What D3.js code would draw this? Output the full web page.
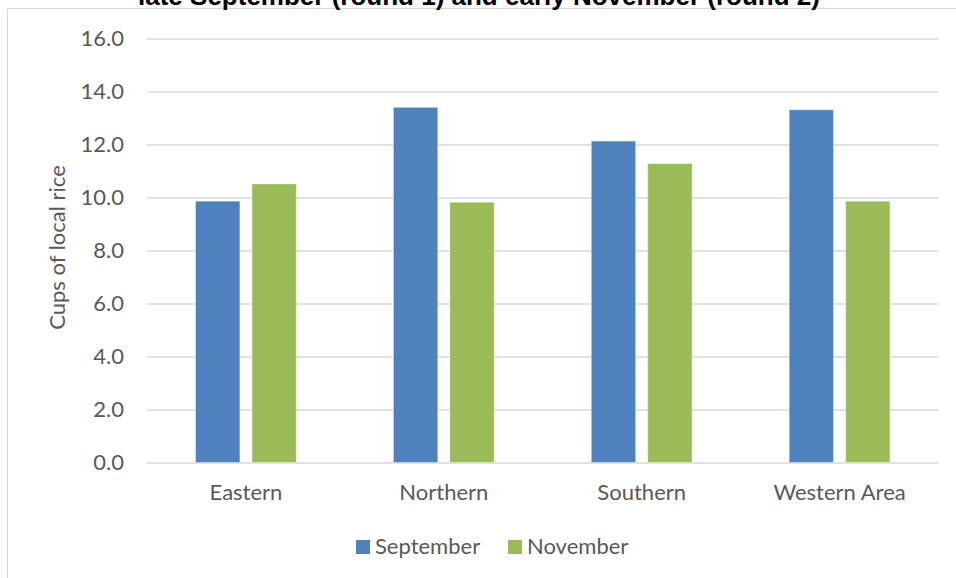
<!DOCTYPE html>
<html>
<head>
<meta charset="utf-8">
<script src="https://cdn.jsdelivr.net/npm/d3@7"></script>
<style>
  html, body { margin: 0; padding: 0; background: #fff; }
  svg { display: block; }
</style>
</head>
<body>
<svg id="chart" width="956" height="578"></svg>
<script>
const categories = ["Eastern", "Northern", "Southern", "Western Area"];
const seriesNames = ["September", "November"];
const september = [9.86, 13.40, 12.13, 13.31];
const november = [10.51, 9.82, 11.28, 9.86];
const yTicks = [0, 2, 4, 6, 8, 10, 12, 14, 16];
const colors = ["#4F81BD", "#9BBB59"];
const titleText = "late September (round 1) and early November (round 2)";
const yTitle = "Cups of local rice";

const seriesValues = [september, november];
const W = 956, H = 578;
const plot = { left: 147, right: 938.5, top: 38.5, bottom: 462.5 };
const font = "Lato, 'Open Sans', sans-serif";
const textColor = "#595959";

const svg = d3.select("#chart");
svg.append("rect").attr("width", W).attr("height", H).attr("fill", "#fff");

// chart border (top and left visible)
svg.append("line").attr("x1", 7.5).attr("x2", W).attr("y1", 8.5).attr("y2", 8.5)
  .attr("stroke", "#d9d9d9").attr("stroke-width", 1);
svg.append("line").attr("x1", 7.5).attr("x2", 7.5).attr("y1", 8.5).attr("y2", H)
  .attr("stroke", "#d9d9d9").attr("stroke-width", 1);

// title (cropped at top, as in the reference)
svg.append("text").attr("x", 479).attr("y", 5)
  .attr("text-anchor", "middle")
  .attr("font-family", "'Liberation Sans', Arial, sans-serif")
  .attr("font-weight", "bold").attr("font-size", 26)
  .attr("fill", "#000").text(titleText);

const x0 = d3.scaleBand().domain(categories).range([plot.left, plot.right]).padding(0);
const pairW = 100.7;
const x1 = d3.scaleBand().domain(seriesNames)
  .range([(x0.bandwidth() - pairW) / 2, (x0.bandwidth() + pairW) / 2])
  .paddingInner(0.215).paddingOuter(0);
const y = d3.scaleLinear().domain([0, 16]).range([plot.bottom, plot.top]);

// y axis with gridlines
const yAxis = svg.append("g").attr("transform", `translate(${plot.left},0)`)
  .call(d3.axisLeft(y).tickValues(yTicks).tickFormat(d3.format(".1f"))
    .tickSize(-(plot.right - plot.left)).tickPadding(23));
yAxis.select(".domain").remove();
yAxis.selectAll(".tick line").attr("stroke", "#d9d9d9").attr("stroke-width", 1.3);
yAxis.selectAll(".tick text").attr("fill", textColor)
  .attr("font-family", font).attr("font-size", 22);

// bars
const groups = svg.append("g").selectAll("g").data(categories).join("g")
  .attr("transform", d => `translate(${x0(d)},0)`);
groups.selectAll("rect")
  .data((d, i) => seriesNames.map((s, j) => ({ s, j, v: seriesValues[j][i] })))
  .join("rect")
  .attr("x", d => x1(d.s))
  .attr("width", x1.bandwidth())
  .attr("y", d => y(d.v))
  .attr("height", d => y(0) - y(d.v))
  .attr("fill", d => colors[d.j])
  .attr("stroke", "#fff").attr("stroke-opacity", 0.35).attr("stroke-width", 1);

// x axis labels
const xAxis = svg.append("g").attr("transform", `translate(0,${plot.bottom})`)
  .call(d3.axisBottom(x0).tickSize(0).tickPadding(22));
xAxis.select(".domain").remove();
xAxis.selectAll(".tick text").attr("fill", textColor)
  .attr("font-family", font).attr("font-size", 22);

// y axis title
svg.append("text")
  .attr("transform", "translate(65,247.5) rotate(-90)")
  .attr("text-anchor", "middle")
  .attr("font-family", font).attr("font-size", 22)
  .attr("fill", textColor).text(yTitle);

// legend
const legendX = [356, 508];
const lg = svg.append("g").selectAll("g").data(seriesNames).join("g")
  .attr("transform", (d, i) => `translate(${legendX[i]},540)`);
lg.append("rect").attr("width", 14).attr("height", 14).attr("fill", (d, i) => colors[i]);
lg.append("text").attr("x", 19).attr("y", 14)
  .attr("font-family", font).attr("font-size", 22)
  .attr("fill", textColor).text(d => d);
</script>
</body>
</html>
